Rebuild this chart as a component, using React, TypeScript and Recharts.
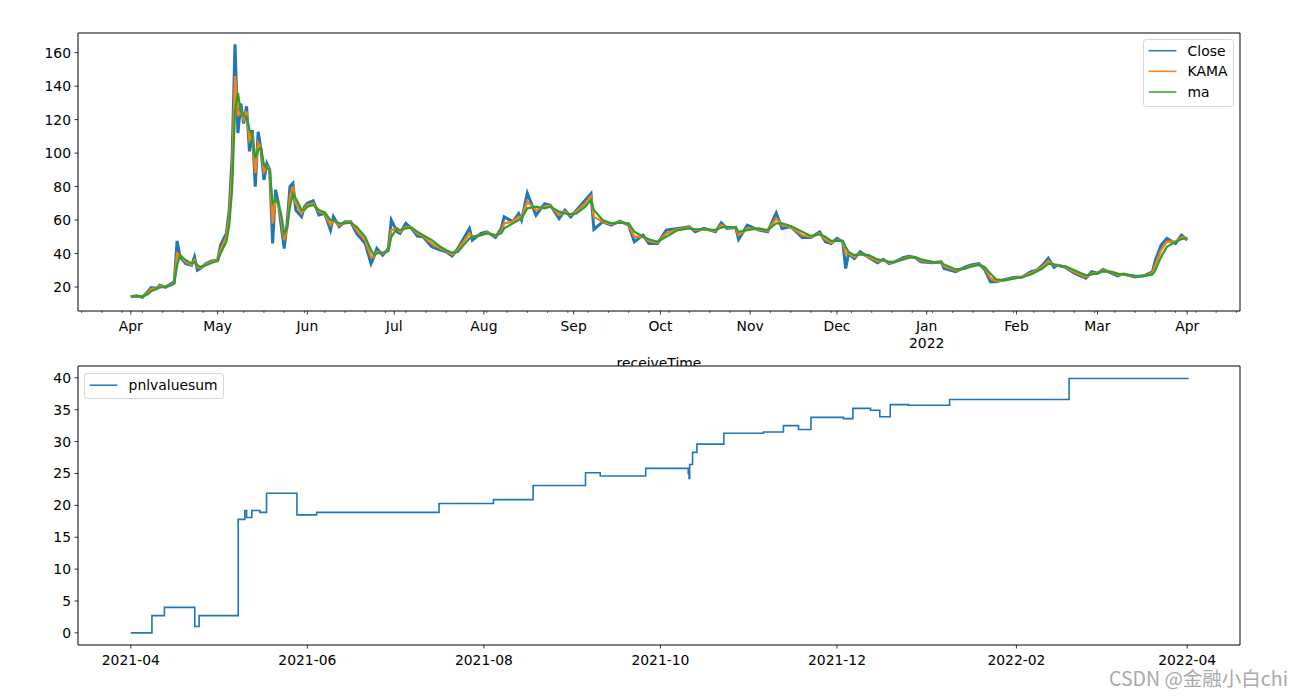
import React from 'react';
import { LineChart, Line, XAxis, YAxis, ReferenceArea, Legend } from 'recharts';

// ---------- data ----------
const START = [2021, 4, 1]; // day 0 = 2021-04-01
const SERIES_NAMES = ['Close', 'KAMA', 'ma'];
const SERIES_COLORS = ['#1f77b4', '#ff7f0e', '#2ca02c'];
const PNL_NAME = 'pnlvaluesum';

const priceDay = [
  0, 2, 4, 6, 7, 9, 10, 12, 14, 15,
  16, 17, 19, 21, 22, 23, 24, 26, 28, 30,
  31, 33, 34, 35, 36, 37, 38, 39, 40, 41,
  42, 43, 44, 45, 46, 47, 48, 49, 50, 51,
  52, 53, 54, 55, 56, 57, 59, 60, 61, 63,
  65, 67, 69, 70, 72, 74, 76, 78, 81, 83,
  84, 85, 87, 89, 90, 92, 93, 95, 97, 99,
  101, 104, 107, 109, 111, 113, 115, 117, 118, 121,
  123, 126, 128, 129, 132, 134, 135, 137, 140, 143,
  145, 148, 150, 152, 154, 157, 159, 160, 163, 166,
  169, 172, 174, 177, 179, 182, 185, 189, 193, 195,
  198, 202, 204, 206, 209, 210, 213, 217, 220, 223,
  225, 228, 232, 235, 238, 240, 242, 244, 246, 247,
  248, 250, 252, 255, 258, 260, 262, 264, 267, 269,
  271, 273, 277, 280, 281, 285, 288, 290, 293, 295,
  297, 299, 302, 305, 308, 311, 313, 315, 317, 319,
  320, 323, 326, 330, 332, 334, 336, 339, 341, 343,
  347, 350, 353, 354, 356, 358, 361, 363, 364, 365,
];

const closeValues = [
  14.2, 14.8, 13.9, 17.5, 19.6, 19.2, 21, 19.8, 22, 23,
  47.5, 38, 34, 33, 38, 30, 31, 34, 35.5, 36,
  45, 52, 66, 98, 165, 112, 129.6, 117.7, 128, 101,
  113.7, 80, 112.7, 101.8, 84, 93.8, 90, 46, 78, 70,
  56, 43, 58, 80, 82, 66, 62, 68, 70, 71.5,
  63, 64, 54, 62, 56, 59, 59, 52, 46, 34,
  38, 43, 39, 43, 60, 53, 52, 58, 55, 50.4,
  50, 44, 42, 41, 38.5, 43, 49, 55, 48, 52,
  53, 49.6, 55, 61.9, 58.9, 63.9, 59.9, 76, 62.9, 69.8,
  68.8, 60.9, 65.9, 61.9, 65.9, 71.8, 75.8, 54.4, 58.9, 56.9,
  59.3, 56.9, 47, 51, 46, 46, 54, 55, 56, 53,
  55, 53, 58.3, 55, 55.6, 48.4, 56.9, 54, 53, 64.3,
  55, 56, 49.6, 49.6, 53, 47, 46, 49, 47, 31,
  40, 37, 41, 37.6, 34.5, 36.5, 34, 35, 37.6, 38.4,
  37.6, 35, 34.5, 35, 31.1, 29.1, 31.7, 33, 34, 30.5,
  23.2, 23.2, 24.5, 25.7, 26, 29.1, 30, 33, 37.1, 31.7,
  33, 31.7, 28.2, 25.2, 29.1, 28.2, 30.5, 28.2, 26.7, 27.8,
  26, 26.7, 29.1, 36, 45, 49, 46, 51, 49.6, 48,
];

const kamaValues = [
  14.2, 14.6, 14.2, 16.5, 18.8, 19.1, 20.4, 20.0, 21.4, 22.4,
  40, 39, 35, 33.5, 36, 32, 31.5, 33.5, 35, 36,
  42, 50, 62, 88, 146, 122, 126, 120, 125, 108,
  112, 88, 106, 103, 89, 92, 90, 58, 72, 70,
  60, 48, 55, 74, 80, 70, 64, 67, 69, 70,
  65, 64, 57, 60, 57, 58.5, 59, 54, 48, 38,
  38, 41, 40, 42, 54, 55, 53, 56, 55.5, 52,
  50.5, 46, 43, 41.5, 39.5, 42, 47, 52, 50, 51,
  52.5, 50.5, 53, 58, 59, 62, 61, 71, 66, 68,
  68.5, 63, 65, 63, 65, 70, 74, 62, 59, 57.5,
  59, 57.5, 50, 50, 47.5, 46.5, 52, 54.5, 55.5, 54,
  54.5, 53.5, 57, 55.5, 55.5, 51, 55, 54.5, 53.5, 61,
  57, 56, 51, 50, 52, 48.5, 46.5, 48, 47.5, 40,
  40, 38, 40, 38, 35.5, 36, 34.5, 35, 37, 38,
  37.8, 35.8, 34.8, 35, 32.5, 29.8, 31, 32.5, 33.5, 31.5,
  25.5, 23.5, 24.2, 25.3, 26, 28.3, 29.8, 32, 35.5, 33,
  33, 32, 29, 26, 28, 28.5, 29.8, 28.8, 27.3, 27.5,
  26.5, 26.5, 28.3, 33, 42, 47, 47, 49.5, 49.8, 48.8,
];

const maValues = [
  14.3, 14.5, 14.3, 15.8, 17.5, 18.8, 19.8, 20.0, 21, 22,
  33, 39, 36, 34, 35, 33, 32, 33, 34.5, 35.5,
  40, 47, 57, 78, 125, 136, 125, 122, 122, 114,
  110, 97, 102, 103, 93, 91, 90, 70, 72, 70,
  63, 52, 55, 68, 76, 73, 66, 66, 68, 69,
  66, 64.5, 60, 60, 58, 58, 58.5, 56, 50, 42,
  39, 40, 40.5, 41.5, 50, 55, 54, 55, 55.5, 53,
  51, 48, 44, 42, 40.5, 41, 45, 49, 50, 51,
  52, 51, 52, 55, 58, 60, 61, 67, 68, 67,
  68, 65, 64, 63.5, 64, 68, 72, 66, 60, 58,
  58.5, 58, 53, 50, 48.5, 47, 50, 54, 55, 54.5,
  54.5, 54, 55.5, 56, 55.5, 53, 54, 55, 54, 58,
  58, 56.5, 53, 50.5, 51.5, 50, 47.5, 47.5, 47.5, 44,
  41, 39, 39.5, 39, 36.5, 36, 35, 35, 36.5, 37.5,
  37.8, 36.5, 35, 34.8, 33.5, 30.5, 30.8, 32, 33.2, 32,
  28, 24.5, 24, 25, 25.8, 27.5, 29.3, 31, 34, 33.5,
  33, 32.3, 30, 27, 27.5, 28.3, 29.3, 29, 28, 27.5,
  26.8, 26.5, 27.5, 30, 38, 44, 47, 48.5, 49, 49,
];

const pnlDay = [
  0, 7.3, 11.6, 22.1, 23.6, 37.1, 39.4, 40.0, 41.8, 44.6,
  46.9, 57.4, 64.2, 106.5, 125.3, 139.0, 157.1, 162.2, 177.9, 192.6,
  192.9, 193.1, 194.1, 195.6, 204.9, 218.6, 225.5, 230.7, 235.0, 246.2,
  249.5, 255.6, 258.8, 262.4, 268.7, 282.9, 324.2, 365.5,
];
const pnlValues = [
  0, 2.7, 4.0, 1.0, 2.7, 17.8, 19.2, 18.1, 19.2, 18.9,
  21.9, 18.5, 18.9, 20.3, 20.9, 23.1, 25.1, 24.6, 25.8, 25.0,
  24.2, 26.4, 28.3, 29.6, 31.3, 31.5, 32.5, 31.9, 33.8, 33.6,
  35.2, 34.9, 33.9, 35.8, 35.7, 36.6, 39.9, 39.9,
];

const priceYTicks = [20, 40, 60, 80, 100, 120, 140, 160];
const pnlYTicks = [0, 5, 10, 15, 20, 25, 30, 35, 40];
const monthLabels = ['Jan', 'Feb', 'Mar', 'Apr', 'May', 'Jun', 'Jul', 'Aug', 'Sep', 'Oct', 'Nov', 'Dec'];
const pnlTickMonths = [[2021, 4], [2021, 6], [2021, 8], [2021, 10], [2021, 12], [2022, 2], [2022, 4]];

const X_DOMAIN: [number, number] = [-18.25, 383.25];
const PRICE_DOMAIN: [number, number] = [5.66, 171.75];
const PNL_DOMAIN: [number, number] = [-1.9, 41.85];

// ---------- helpers ----------
const FONT = 'DejaVu Sans';
const FS = 13.9;
const startMs = Date.UTC(START[0], START[1] - 1, START[2]);
const dayOf = (y: number, m: number, d: number) => Math.round((Date.UTC(y, m - 1, d) - startMs) / 86400000);

const priceData = priceDay.map((d, i) => ({ x: d, close: closeValues[i], kama: kamaValues[i], ma: maValues[i] }));
const pnlData = pnlDay.map((d, i) => ({ x: d, pnl: pnlValues[i] }));

// major ticks: month starts Apr 2021 .. Apr 2022
const majorInfo = new Map<number, { label: string; year?: string }>();
for (let i = 0; i <= 12; i++) {
  const y = 2021 + Math.floor((3 + i) / 12);
  const m = ((3 + i) % 12) + 1;
  majorInfo.set(dayOf(y, m, 1), { label: monthLabels[m - 1], year: m === 1 ? String(y) : undefined });
}
const topTicks: number[] = [];
for (let d = dayOf(2021, 3, 15); d <= X_DOMAIN[1]; d += 7) {
  if (!majorInfo.has(d)) topTicks.push(d);
}
majorInfo.forEach((_, k) => topTicks.push(k));
topTicks.sort((a, b) => a - b);

const pnlTicks = pnlTickMonths.map(([y, m]) => dayOf(y, m, 1));
const pnlTickLabel = new Map<number, string>();
pnlTickMonths.forEach(([y, m], i) => pnlTickLabel.set(pnlTicks[i], `${y}-${String(m).padStart(2, '0')}`));

// ---------- tick renderers ----------
const TopXTick = (props: any) => {
  const { x, y, payload } = props;
  const info = majorInfo.get(payload.value);
  if (!info) {
    return <line x1={x} x2={x} y1={y} y2={y + 2} stroke="#000" strokeWidth={0.6} />;
  }
  return (
    <g>
      <line x1={x} x2={x} y1={y} y2={y + 3.5} stroke="#000" strokeWidth={0.8} />
      <text x={x} y={y + 20} textAnchor="middle" fontSize={FS} fontFamily={FONT} fill="#000">{info.label}</text>
      {info.year ? (
        <text x={x} y={y + 36.5} textAnchor="middle" fontSize={FS} fontFamily={FONT} fill="#000">{info.year}</text>
      ) : null}
    </g>
  );
};

const BottomXTick = (props: any) => {
  const { x, y, payload } = props;
  return (
    <g>
      <line x1={x} x2={x} y1={y} y2={y + 3.5} stroke="#000" strokeWidth={0.8} />
      <text x={x} y={y + 20} textAnchor="middle" fontSize={FS} fontFamily={FONT} fill="#000">
        {pnlTickLabel.get(payload.value)}
      </text>
    </g>
  );
};

const YTick = (props: any) => {
  const { x, y, payload } = props;
  return (
    <g>
      <line x1={x - 3.5} x2={x} y1={y} y2={y} stroke="#000" strokeWidth={0.8} />
      <text x={x - 7} y={y + 5} textAnchor="end" fontSize={FS} fontFamily={FONT} fill="#000">{payload.value}</text>
    </g>
  );
};

// ---------- legend ----------
const LegendBox = ({ payload, w, h, rowGap, firstRow }: any) => (
  <svg width={w} height={h} style={{ display: 'block' }}>
    <rect x={0.5} y={0.5} width={w - 1} height={h - 1} rx={2.8} fill="rgba(255,255,255,0.8)" stroke="#cccccc" strokeOpacity={0.8} />
    {(payload || []).map((it: any, i: number) => {
      const ry = firstRow + i * rowGap;
      return (
        <g key={i}>
          <line x1={5.6} x2={33.4} y1={ry} y2={ry} stroke={it.color} strokeWidth={1.5} />
          <text x={44.6} y={ry + 5} fontSize={FS} fontFamily={FONT} fill="#000">{it.value}</text>
        </g>
      );
    })}
  </svg>
);

export default function App() {
  return (
    <div style={{ position: 'absolute', left: 0, top: 0, width: 1301, height: 698, background: '#fff', fontFamily: FONT }}>
      {/* top chart */}
      <div style={{ position: 'absolute', left: 0, top: 0, width: 1301, height: 366, overflow: 'hidden' }}>
        <LineChart width={1301} height={366} data={priceData} margin={{ top: 33, right: 61, left: 0, bottom: 0 }}>
          <XAxis
            dataKey="x" type="number" domain={X_DOMAIN} allowDataOverflow ticks={topTicks} interval={0}
            height={55} tickSize={0} tickMargin={0} axisLine={false} tickLine={false} tick={<TopXTick />}
          />
          <YAxis
            type="number" domain={PRICE_DOMAIN} allowDataOverflow ticks={priceYTicks} interval={0}
            width={78} tickSize={0} tickMargin={0} axisLine={false} tickLine={false} tick={<YTick />}
          />
          <ReferenceArea x1={X_DOMAIN[0]} x2={X_DOMAIN[1]} y1={PRICE_DOMAIN[0]} y2={PRICE_DOMAIN[1]} fill="none" stroke="#000" strokeWidth={1} fillOpacity={0} />
          <Line dataKey="close" name={SERIES_NAMES[0]} stroke={SERIES_COLORS[0]} strokeWidth={3} dot={false} type="linear" isAnimationActive={false} />
          <Line dataKey="kama" name={SERIES_NAMES[1]} stroke={SERIES_COLORS[1]} strokeWidth={2.4} dot={false} type="linear" isAnimationActive={false} />
          <Line dataKey="ma" name={SERIES_NAMES[2]} stroke={SERIES_COLORS[2]} strokeWidth={2.2} dot={false} type="linear" isAnimationActive={false} />
          <Legend
            layout="vertical" verticalAlign="middle" align="center"
            wrapperStyle={{ position: 'absolute', left: 1143, top: 39, width: 91, height: 68 }}
            content={(p: any) => <LegendBox payload={p.payload} w={91} h={68} rowGap={20.65} firstRow={11.7} />}
          />
        </LineChart>
        <svg width={1301} height={366} style={{ position: 'absolute', left: 0, top: 0, pointerEvents: 'none' }}>
          <text x={659} y={367.5} textAnchor="middle" fontSize={FS} fontFamily={FONT} fill="#000">receiveTime</text>
        </svg>
      </div>

      {/* bottom chart */}
      <div style={{ position: 'absolute', left: 0, top: 330, width: 1301, height: 368 }}>
        <LineChart width={1301} height={368} data={pnlData} margin={{ top: 36, right: 61, left: 0, bottom: 0 }}>
          <XAxis
            dataKey="x" type="number" domain={X_DOMAIN} allowDataOverflow ticks={pnlTicks} interval={0}
            height={53} tickSize={0} tickMargin={0} axisLine={false} tickLine={false} tick={<BottomXTick />}
          />
          <YAxis
            type="number" domain={PNL_DOMAIN} allowDataOverflow ticks={pnlYTicks} interval={0}
            width={78} tickSize={0} tickMargin={0} axisLine={false} tickLine={false} tick={<YTick />}
          />
          <ReferenceArea x1={X_DOMAIN[0]} x2={X_DOMAIN[1]} y1={PNL_DOMAIN[0]} y2={PNL_DOMAIN[1]} fill="none" stroke="#000" strokeWidth={1} fillOpacity={0} />
          <Line dataKey="pnl" name={PNL_NAME} stroke="#1f77b4" strokeWidth={1.6} dot={false} type="stepAfter" isAnimationActive={false} />
          <Legend
            layout="vertical" verticalAlign="middle" align="center"
            wrapperStyle={{ position: 'absolute', left: 84, top: 43, width: 140, height: 26 }}
            content={(p: any) => <LegendBox payload={p.payload} w={140} h={26} rowGap={0} firstRow={12.2} />}
          />
        </LineChart>
      </div>

      {/* watermark */}
      <svg width={1301} height={698} style={{ position: 'absolute', left: 0, top: 0, pointerEvents: 'none' }}>
        <text x={1288} y={686} textAnchor="end" fontSize={19.5} fontFamily="Noto Sans CJK SC" fill="#aaaaaa">CSDN @金融小白chi</text>
      </svg>
    </div>
  );
}
